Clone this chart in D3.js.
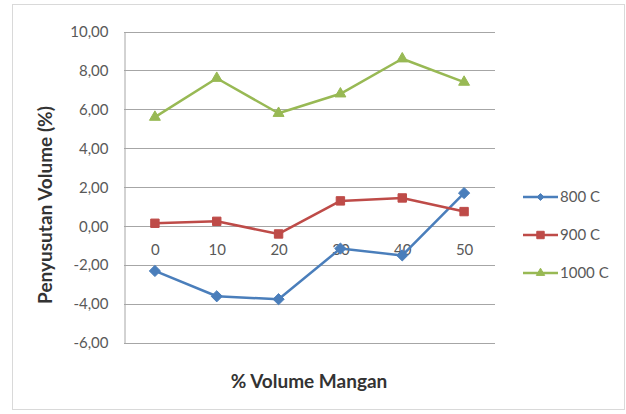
<!DOCTYPE html>
<html>
<head>
<meta charset="utf-8">
<script src="https://cdn.jsdelivr.net/npm/d3@7"></script>
<style>
  html, body { margin: 0; padding: 0; background: #fff; }
  svg { display: block; }
  text { font-family: Lato, "Open Sans", sans-serif; }
</style>
</head>
<body>
<svg id="chart" width="626" height="414"></svg>
<script>
// Shrinkage (%) per manganese volume fraction, for three firing temperatures
const categories = ["0", "10", "20", "30", "40", "50"];
const seriesNames = ["800 C", "900 C", "1000 C"];
const values800 = [-2.3, -3.6, -3.75, -1.15, -1.5, 1.7];
const values900 = [0.15, 0.25, -0.4, 1.3, 1.45, 0.75];
const values1000 = [5.6, 7.6, 5.8, 6.8, 8.6, 7.4];
const yTicks = [10, 8, 6, 4, 2, 0, -2, -4, -6];

const series = [
  { name: seriesNames[0], values: values800, color: "#4a7ebb", marker: "diamond" },
  { name: seriesNames[1], values: values900, color: "#be4b48", marker: "square" },
  { name: seriesNames[2], values: values1000, color: "#98b954", marker: "triangle" }
];

const svg = d3.select("#chart");

// chart frame
svg.append("rect")
  .attr("x", 12.5).attr("y", 4.5)
  .attr("width", 612).attr("height", 405)
  .attr("fill", "#fff").attr("stroke", "#d9d9d9");

const plot = { left: 124, right: 495, top: 31.5, bottom: 343 };

const x = d3.scalePoint().domain(categories)
  .range([plot.left, plot.right]).padding(0.5);
const y = d3.scaleLinear().domain([-6, 10])
  .range([plot.bottom, plot.top]);

// horizontal gridlines
svg.append("g")
  .selectAll("line").data(yTicks).join("line")
  .attr("x1", plot.left).attr("x2", plot.right)
  .attr("y1", d => Math.round(y(d)) + 0.5).attr("y2", d => Math.round(y(d)) + 0.5)
  .attr("stroke", "#a6a6a6").attr("stroke-width", 1);

// value axis, decimal comma and plain hyphen for negatives
const fmt = d => d3.format(".2f")(d).replace(".", ",").replace("\u2212", "-");
const yAxis = svg.append("g")
  .attr("transform", `translate(${plot.left + 0.5},0)`)
  .call(d3.axisLeft(y).tickValues(yTicks).tickSize(0).tickPadding(16).tickFormat(fmt));
yAxis.select(".domain").attr("stroke", "#a6a6a6");
yAxis.selectAll("text")
  .attr("fill", "#595959").style("font-size", "15px")
  .style("font-family", "Lato, 'Open Sans', sans-serif");

// category axis crossing at zero
const xAxis = svg.append("g")
  .attr("transform", `translate(0,${Math.round(y(0)) + 0.5})`)
  .call(d3.axisBottom(x).tickSize(0).tickPadding(18));
xAxis.select(".domain").remove();
xAxis.selectAll("text")
  .attr("fill", "#595959").style("font-size", "15px")
  .style("font-family", "Lato, 'Open Sans', sans-serif");

// markers (size is symbol area in px²)
const symbolTypes = {
  diamond: d3.symbolDiamond2,
  square: d3.symbolSquare2,
  triangle: d3.symbolTriangle2
};
function drawMarker(g, type, color, area) {
  g.append("path").attr("d", d3.symbol(symbolTypes[type], area)())
    .attr("fill", color).attr("stroke", color).attr("stroke-width", 1);
}
const markerArea = { diamond: 80, square: 90, triangle: 85 };
const legendArea = { diamond: 30, square: 70, triangle: 50 };

const line = d3.line().x((d, i) => x(categories[i])).y(d => y(d));

series.forEach(s => {
  svg.append("path")
    .datum(s.values)
    .attr("d", line)
    .attr("fill", "none")
    .attr("stroke", s.color)
    .attr("stroke-width", 2.5)
    .attr("stroke-linejoin", "round");
  s.values.forEach((v, i) => {
    const g = svg.append("g")
      .attr("transform", `translate(${x(categories[i])},${y(v)})`);
    drawMarker(g, s.marker, s.color, markerArea[s.marker]);
  });
});

// axis titles
svg.append("text")
  .attr("x", 309).attr("y", 388)
  .attr("text-anchor", "middle")
  .attr("fill", "#333")
  .style("font-size", "19px").style("font-weight", "bold")
  .text("% Volume Mangan");

svg.append("text")
  .attr("transform", "translate(52,205) rotate(-90)")
  .attr("text-anchor", "middle")
  .attr("fill", "#333")
  .style("font-size", "19px").style("font-weight", "bold")
  .text("Penyusutan Volume (%)");

// legend
const legendY = [197, 235, 273];
series.forEach((s, i) => {
  const g = svg.append("g").attr("transform", `translate(523,${legendY[i]})`);
  g.append("line").attr("x1", 0).attr("x2", 35).attr("y1", 0).attr("y2", 0)
    .attr("stroke", s.color).attr("stroke-width", 2.5);
  const m = g.append("g").attr("transform", "translate(17.5,0)");
  drawMarker(m, s.marker, s.color, legendArea[s.marker]);
  g.append("text").attr("x", 37).attr("y", 0).attr("dy", "0.35em")
    .attr("fill", "#595959").style("font-size", "15px")
    .text(s.name);
});
</script>
</body>
</html>
